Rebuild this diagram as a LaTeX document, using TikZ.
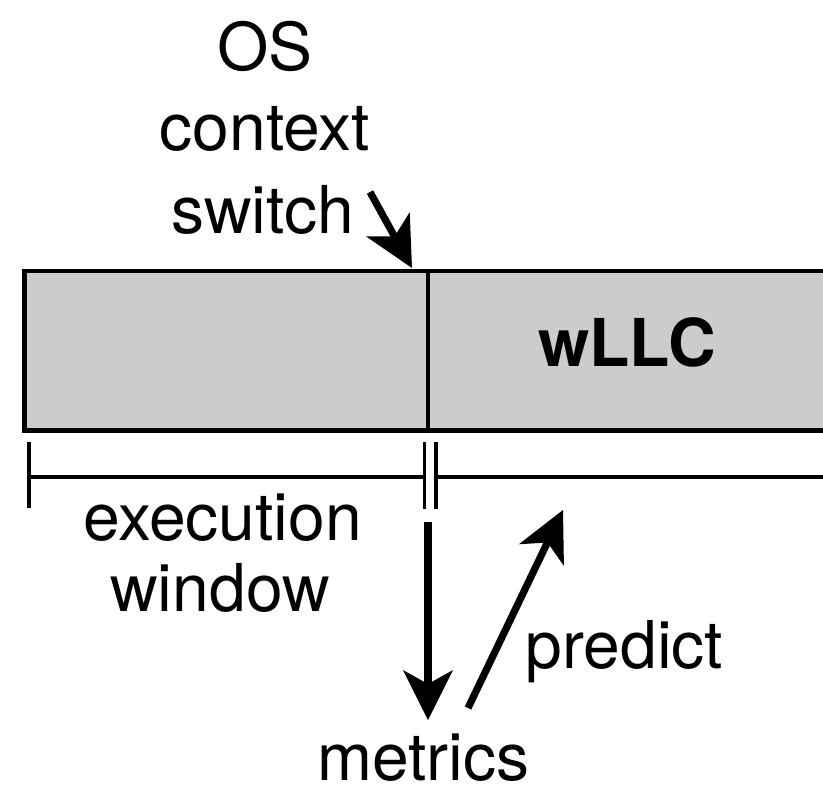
\documentclass[tikz,border=0pt]{standalone}
\usepackage{fontspec}
\setmainfont{TeX Gyre Heros}
\usetikzlibrary{arrows.meta}
\definecolor{boxgray}{gray}{0.8}
\begin{document}
\begin{tikzpicture}[x=0.5pt,y=-0.5pt,
  lbl/.style={anchor=base,inner sep=0pt,font=\fontsize{33}{40}\selectfont},
  bold lbl/.style={lbl,font=\fontsize{33}{40}\selectfont\bfseries},
  bigarrow/.style={line width=4pt,
    -{Stealth[length=25pt,width=25pt,inset=7pt,line width=0pt]}},
  frame/.style={line width=2.4pt},
  thin rule/.style={line width=1.6pt},
  tick/.style={line width=1.8pt}]
  \useasboundingbox (0,0) rectangle (823,788);
  \clip (0,0) rectangle (823,788);

  % cache box: execution window on the left, wLLC on the right
  \coordinate (boxNW) at (24.3,271);
  \coordinate (boxSE) at (850,430.5);
  \coordinate (divTop) at (428,271);
  \coordinate (divBot) at (428,430.5);
  \fill[boxgray] (boxNW) rectangle (boxSE);
  \draw[frame] (boxSE |- boxNW) -- (boxNW) -- (boxNW |- boxSE) -- (boxSE);
  \draw[thin rule] (divTop) -- (divBot);
  \node[bold lbl] (wllc) at (627,366) {wLLC};

  % timeline under the box
  \coordinate (tlStartTop) at (29,442);
  \coordinate (tlStartBot) at (29,508);
  \coordinate (tlStart) at (29,477);
  \coordinate (tlBreakL) at (424.5,477);
  \coordinate (tlBreakR) at (436,477);
  \coordinate (tlEnd) at (850,477);
  \draw[tick] (tlStartTop) -- (tlStartBot);
  \draw[thin rule] (tlStart) -- (tlBreakL);
  \draw[thin rule] (tlBreakR) -- (tlEnd);
  \draw[tick] (424.5,442) -- (424.5,509);
  \draw[tick] (436,442) -- (436,509);

  % labels
  \node[lbl] (osA) at (265,70) {OS};
  \node[lbl] (osB) at (265,150) {context};
  \node[lbl] (osC) at (263,233) {switch};
  \node[lbl] (execA) at (222.5,540) {execution};
  \node[lbl] (execB) at (220,611) {window};
  \node[lbl] (predict) at (624.5,668) {predict};
  \node[lbl,text depth=0pt] (metrics) at (423.5,780) {metrics};

  % arrows
  \coordinate (csTail) at (370,192);
  \coordinate (csTip) at (412,268);
  \draw[bigarrow,line width=3.6pt] (csTail) -- (csTip);

  \coordinate (mTail) at (428,522);
  \coordinate (mTip) at (428,720);
  \draw[bigarrow] (mTail) -- (mTip);

  \coordinate (pTail) at (468,708);
  \coordinate (pTip) at (563,510);
  \draw[bigarrow,line width=3.6pt] (pTail) -- (pTip);
\end{tikzpicture}
\end{document}
